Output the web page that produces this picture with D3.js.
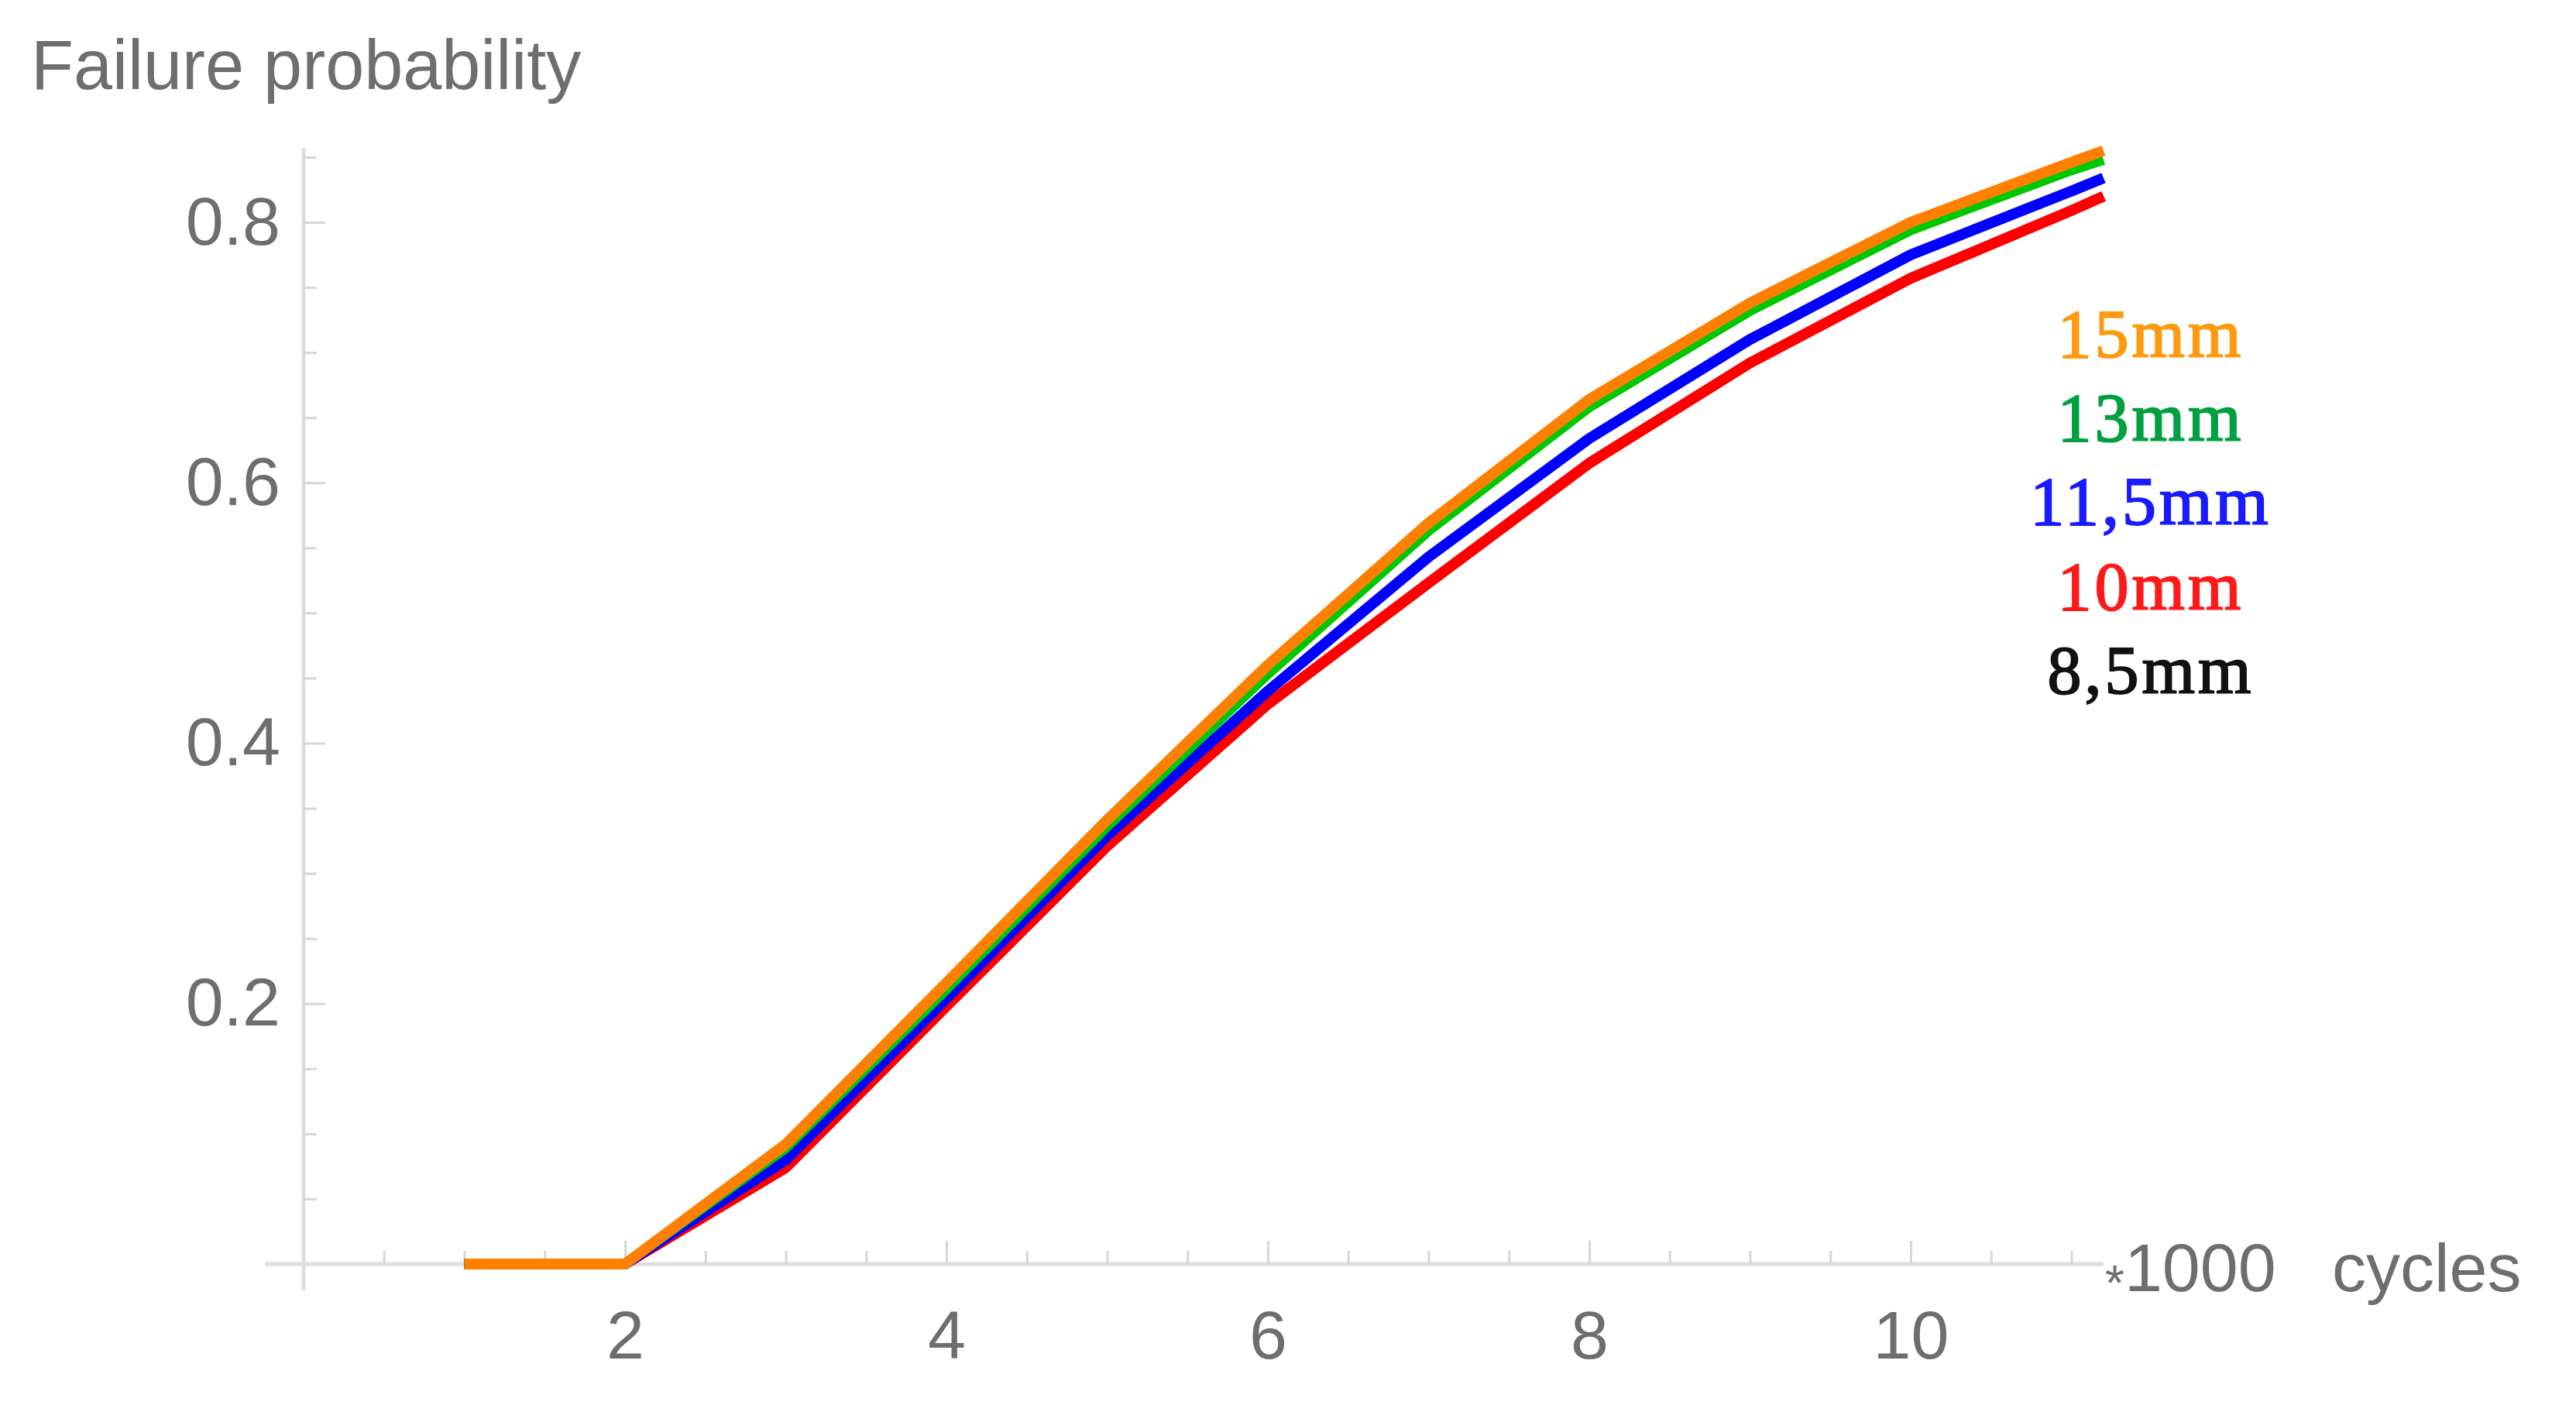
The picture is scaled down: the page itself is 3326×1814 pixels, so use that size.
<html>
	<head>
		<script src="https://cdn.jsdelivr.net/npm/d3@7"></script>
		<style>
			body { margin: 0; background: #fff; }
			text { font-family: "Liberation Sans", Arial, sans-serif; fill: #6e6e6e; }
			.legend text { font-family: "Liberation Serif", "Times New Roman", serif; stroke-width: 2px; }
		</style>
	</head>

	<body>
		<svg id="myGraph" width="3326" height="1814"></svg>

		<script>
			// thousand cycles
			var cycles = [1, 2, 3, 4, 5, 6, 7, 8, 9, 10, 11, 11.2];

			// failure probability per rib size
			var p15 = [0, 0, 0.092, 0.216, 0.341, 0.460, 0.569, 0.664, 0.738, 0.800, 0.846, 0.855];
			var p13 = [0, 0, 0.089, 0.211, 0.336, 0.453, 0.563, 0.658, 0.732, 0.794, 0.840, 0.848];
			var p115 = [0, 0, 0.080, 0.204, 0.329, 0.440, 0.543, 0.634, 0.710, 0.775, 0.824, 0.834];
			var p10 = [0, 0, 0.074, 0.198, 0.321, 0.430, 0.523, 0.615, 0.692, 0.757, 0.809, 0.820];
			var p85 = [0, 0, 0.074, 0.198, 0.321, 0.430, 0.523, 0.615, 0.692, 0.757, 0.809, 0.820];

			var seriesNames = ["15mm", "13mm", "11,5mm", "10mm", "8,5mm"];

			var xMajor = [2, 4, 6, 8, 10];
			var xMinor = [0.5, 1, 1.5, 2.5, 3, 3.5, 4.5, 5, 5.5, 6.5, 7, 7.5, 8.5, 9, 9.5, 10.5, 11];
			var yMajor = [0.2, 0.4, 0.6, 0.8];
			var yMinor = [0.05, 0.1, 0.15, 0.25, 0.3, 0.35, 0.45, 0.5, 0.55, 0.65, 0.7, 0.75, 0.85];

			function drawGraph() {
				var svg = d3.select("#myGraph");

				var xScale = d3.scaleLinear()
					.domain([0, 10])
					.range([392, 2467]);
				var yScale = d3.scaleLinear()
					.domain([0, 0.8])
					.range([1632, 287]);

				// axis lines (they overshoot the origin a bit, Mathematica style)
				svg.append("line")
					.attr("x1", xScale(-0.24)).attr("x2", xScale(11.2))
					.attr("y1", yScale(0)).attr("y2", yScale(0))
					.attr("stroke", "#dedede").attr("stroke-width", 5);
				svg.append("line")
					.attr("x1", xScale(0)).attr("x2", xScale(0))
					.attr("y1", yScale(-0.02)).attr("y2", yScale(0.857))
					.attr("stroke", "#dedede").attr("stroke-width", 5);

				// ticks point inward
				var tickG = svg.append("g").attr("class", "ticks");
				tickG.append("g")
					.attr("transform", "translate(0," + yScale(0) + ")")
					.call(d3.axisTop(xScale).tickValues(xMajor).tickSize(30).tickFormat(""));
				tickG.append("g")
					.attr("transform", "translate(0," + yScale(0) + ")")
					.call(d3.axisTop(xScale).tickValues(xMinor).tickSize(17).tickFormat(""));
				tickG.append("g")
					.attr("transform", "translate(" + xScale(0) + ",0)")
					.call(d3.axisRight(yScale).tickValues(yMajor).tickSize(28).tickFormat(""));
				tickG.append("g")
					.attr("transform", "translate(" + xScale(0) + ",0)")
					.call(d3.axisRight(yScale).tickValues(yMinor).tickSize(17).tickFormat(""));
				tickG.selectAll(".domain").remove();
				tickG.selectAll(".tick line")
					.attr("stroke", "#d6d6d6")
					.attr("stroke-width", 3);

				// tick labels
				var xLab = svg.append("g")
					.attr("transform", "translate(0," + yScale(0) + ")")
					.call(d3.axisBottom(xScale).tickValues(xMajor).tickSize(0).tickPadding(60));
				var yLab = svg.append("g")
					.attr("transform", "translate(" + xScale(0) + ",0)")
					.call(d3.axisLeft(yScale).tickValues(yMajor).tickSize(0).tickPadding(30).tickFormat(d3.format(".1f")));
				[xLab, yLab].forEach(function(g) {
					g.select(".domain").remove();
					g.selectAll("text")
						.attr("fill", "#6e6e6e")
						.style("font-family", "'Liberation Sans', Arial, sans-serif")
						.style("font-size", "88px");
				});

				// axis titles
				svg.append("text")
					.attr("x", 40)
					.attr("y", 115)
					.style("font-size", "90px")
					.text("Failure probability");

				var xt = svg.append("text")
					.attr("x", xScale(11.2) + 2)
					.attr("y", 1667)
					.style("font-size", "88px");
				xt.append("tspan")
					.attr("dy", 12)
					.style("font-size", "64px")
					.text("*");
				xt.append("tspan")
					.attr("dy", -12)
					.text("1000");
				xt.append("tspan")
					.attr("x", 3011)
					.text("cycles");

				// curves
				var lineGenerator = d3.line()
					.x(function(d, i) { return xScale(cycles[i]); })
					.y(function(d) { return yScale(d); });

				var series = [
					{ values: p85, color: "#000000", width: 13 },
					{ values: p10, color: "#ff0000", width: 14 },
					{ values: p115, color: "#0000ff", width: 14 },
					{ values: p13, color: "#00c800", width: 13 },
					{ values: p15, color: "#ff8000", width: 14 }
				];
				series.forEach(function(s) {
					svg.append("path")
						.attr("d", lineGenerator(s.values))
						.attr("fill", "none")
						.attr("stroke", s.color)
						.attr("stroke-width", s.width)
						.attr("stroke-linejoin", "round");
				});

				// labels next to the curves
				var legendColors = ["#ff9a10", "#00a040", "#1a1aff", "#ff1a1a", "#111111"];
				var legendY = [461, 569, 677, 787, 895];
				svg.append("g").attr("class", "legend")
					.selectAll("text")
					.data(seriesNames)
					.enter()
					.append("text")
					.attr("x", 2777)
					.attr("y", function(d, i) { return legendY[i]; })
					.attr("text-anchor", "middle")
					.style("font-size", "88px")
					.style("letter-spacing", "4px")
					.style("fill", function(d, i) { return legendColors[i]; })
					.style("stroke", function(d, i) { return legendColors[i]; })
					.text(function(d) { return d; });
			}

			drawGraph();
		</script>
	</body>
</html>
